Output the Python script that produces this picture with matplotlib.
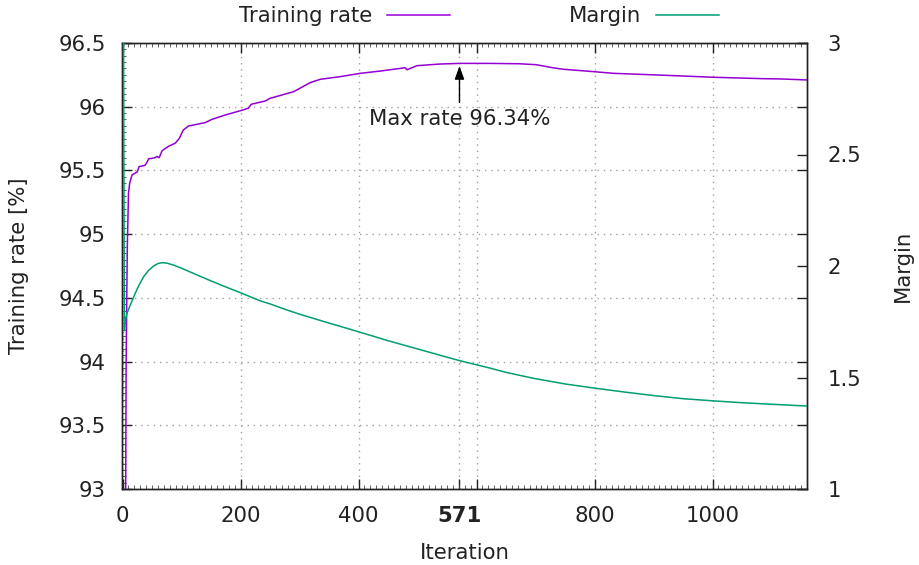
import matplotlib
matplotlib.use("Agg")
import matplotlib.pyplot as plt
from matplotlib.ticker import MultipleLocator, FixedLocator

# ---- data ----
rate_iter = [3, 6, 8, 10, 12, 16, 22, 25, 28, 38, 41, 44, 55, 58, 62, 67, 78, 89, 96,
             103, 112, 140, 151, 174, 200, 213, 218, 242, 250, 290, 318, 335, 369, 403,
             437, 479, 482, 499, 538, 571, 620, 673, 700, 713, 730, 747, 804, 832, 917,
             1002, 1086, 1115, 1160]
rate_vals = [90.0, 94.0, 94.9, 95.32, 95.40, 95.465, 95.48, 95.49, 95.53, 95.54, 95.56,
             95.59, 95.60, 95.61, 95.60, 95.655, 95.69, 95.713, 95.75, 95.818, 95.849,
             95.875, 95.90, 95.935, 95.969, 95.988, 96.019, 96.045, 96.066, 96.118,
             96.189, 96.215, 96.236, 96.262, 96.28, 96.306, 96.29, 96.322, 96.335,
             96.34, 96.34, 96.337, 96.33, 96.32, 96.305, 96.294, 96.273, 96.262,
             96.247, 96.231, 96.22, 96.218, 96.21]

margin_iter = [1, 3, 5, 7.5, 13, 21.5, 28, 35.6, 44, 52.5, 60, 66.8, 75, 86.4, 100, 120,
               149, 175, 200, 233, 250, 275, 301, 350, 400, 450, 500, 550, 572, 620, 650,
               697, 750, 801, 850, 900, 950, 1002, 1050, 1100, 1160]
margin_vals = [3.6, 1.71, 1.76, 1.788, 1.825, 1.878, 1.915, 1.952, 1.98, 2.0, 2.011,
               2.015, 2.013, 2.004, 1.99, 1.967, 1.934, 1.906, 1.88, 1.844, 1.83, 1.806,
               1.783, 1.744, 1.705, 1.665, 1.628, 1.591, 1.575, 1.544, 1.523, 1.496,
               1.471, 1.452, 1.435, 1.419, 1.405, 1.395, 1.387, 1.380, 1.372]

x_ticks = [0, 200, 400, 571, 600, 800, 1000]
x_ticklabels = ["0", "200", "400", "571", "", "800", "1000"]
max_iter = 571
max_rate = 96.34

purple = "#9400d3"
green = "#009e73"
fs = 15.3

plt.rcParams['font.family'] = ['DejaVu Sans']
fig = plt.figure(figsize=(9.2, 5.65), dpi=100)
ax = fig.add_axes([122/920, 1-489/565, (807-122)/920, (489-43)/565])
ax2 = ax.twinx()

l1, = ax.plot(rate_iter, rate_vals, color=purple, lw=1.1, label="Training rate", zorder=3)
l2, = ax2.plot(margin_iter, margin_vals, color=green, lw=1.1, label="Margin", zorder=3)

ax.set_xlim(-1, 1160)
ax.set_ylim(93, 96.5)
ax2.set_ylim(1, 3)

ax.xaxis.set_major_locator(FixedLocator(x_ticks))
ax.set_xticklabels(x_ticklabels)
for t in ax.get_xticklabels():
    if t.get_text() == "571":
        t.set_fontweight("bold")
ax.xaxis.set_minor_locator(MultipleLocator(10))
ax.yaxis.set_major_locator(MultipleLocator(0.5))
ax.yaxis.set_minor_locator(MultipleLocator(0.05))
ax.set_yticklabels([f"{v:g}" for v in ax.get_yticks()])
ax2.yaxis.set_major_locator(MultipleLocator(0.5))
ax2.set_yticklabels([f"{v:g}" for v in ax2.get_yticks()])

ax.tick_params(which='major', direction='in', length=7, width=1, top=True, right=True,
               labelsize=fs, colors='#222222')
ax.tick_params(axis='y', which='major', pad=11.5)
ax.tick_params(axis='x', which='major', pad=12)
ax.tick_params(which='minor', direction='in', length=3, width=0.6, top=True, right=False,
               colors='#444444')
ax2.tick_params(which='major', direction='in', length=7, width=1, labelsize=fs, pad=15,
                colors='#222222')
ax2.tick_params(which='minor', right=False)

ax.grid(True, which='major', linestyle=(0, (1, 3.5)), color='#a0a0a0', lw=1)

for a in (ax, ax2):
    for s in a.spines.values():
        s.set_color('#222222')
        s.set_linewidth(1)

ax.set_xlabel("Iteration", fontsize=fs, color='#222222', labelpad=12.5)
ax.set_ylabel("Training rate [%]", fontsize=fs, color='#222222', labelpad=21.5)
ax2.set_ylabel("Margin", fontsize=fs, color='#222222', labelpad=22.5)

ax.annotate("Max rate 96.34%", xy=(max_iter, max_rate - 0.02), xytext=(max_iter, 95.90),
            ha='center', va='center', fontsize=fs, color='#222222',
            arrowprops=dict(arrowstyle='-|>,head_length=0.5,head_width=0.18', color='black',
                            lw=1, mutation_scale=16, shrinkA=3, shrinkB=0), zorder=5)

leg = fig.legend(handles=[l1, l2], loc='center', bbox_to_anchor=(479/920, 1-16/565),
                 bbox_transform=fig.transFigure, ncol=2, markerfirst=False, frameon=False,
                 fontsize=fs, handlelength=2.95, handletextpad=0.7, columnspacing=5.6,
                 borderpad=0, borderaxespad=0)
for t in leg.get_texts():
    t.set_color('#222222')

fig.savefig("out.png", dpi=100)
